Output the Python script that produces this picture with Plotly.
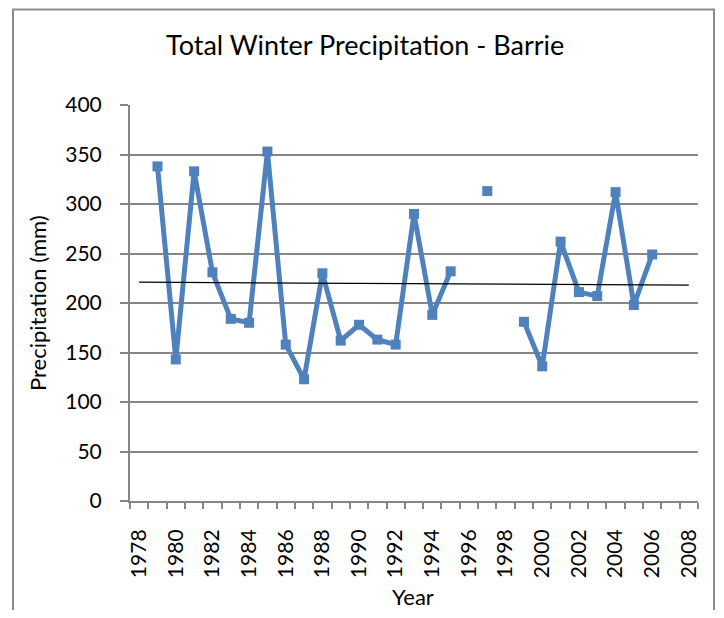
import plotly.graph_objects as go

years = list(range(1979, 2007))
precip = [338, 143, 333, 231, 184, 180, 353, 158, 123, 230, 162, 178, 163, 158,
          290, 188, 232, None, 313, None, 181, 136, 262, 211, 207, 312, 198, 249]
trend_years = [1978, 2008]
trend_values = [221, 218]
y_ticks = [0, 50, 100, 150, 200, 250, 300, 350, 400]
x_tick_years = list(range(1978, 2009, 2))

FONT = "Lato"
GRAY = "#868686"
OFF = 8  # page body margin offset
FW, FH = 724 - 2 * OFF, 618 - 2 * OFF

L, R, T, B = 130, 698, 105, 501
W, H = R - L, B - T

def px_x(p):
    return (p - L) / W

def px_y(p):
    return (B - p) / H

fig = go.Figure()
fig.add_trace(go.Scatter(
    x=years, y=precip, mode="lines+markers",
    line=dict(color="#4F81BD", width=5),
    marker=dict(symbol="square", size=10, color="#4F81BD"),
    connectgaps=False, showlegend=False,
))
fig.add_trace(go.Scatter(
    x=trend_years, y=trend_values, mode="lines",
    line=dict(color="black", width=1.3), showlegend=False,
))

fig.update_layout(
    width=FW, height=FH,
    margin=dict(l=L - OFF, r=FW - (R - OFF), t=T - OFF, b=FH - (B - OFF),
                autoexpand=False),
    paper_bgcolor="white", plot_bgcolor="white",
    font=dict(family=FONT, color="black", size=21),
    xaxis=dict(
        range=[1977.5, 2008.5], tickmode="array", tickvals=x_tick_years,
        ticktext=[str(y) for y in x_tick_years], tickangle=-90,
        ticks="", showgrid=False, showline=True, linecolor=GRAY, linewidth=2,
        zeroline=False, ticklabelstandoff=18,
        minor=dict(tickmode="linear", tick0=1977.5, dtick=1, ticks="outside",
                   ticklen=6, tickcolor=GRAY, tickwidth=1.5, showgrid=False),
        tickfont=dict(size=21),
    ),
    yaxis=dict(
        range=[0, 400], tickvals=y_ticks, showgrid=True, gridcolor=GRAY,
        gridwidth=1.5, showline=True, linecolor=GRAY, linewidth=2,
        ticks="outside", ticklen=8, tickcolor=GRAY, tickwidth=1.5,
        zeroline=False, ticklabelstandoff=14, tickfont=dict(size=21),
    ),
    shapes=[dict(type="rect", xref="paper", yref="paper",
                 x0=px_x(13), x1=px_x(714), y0=px_y(640), y1=px_y(9.5),
                 line=dict(color="#8c8c8c", width=2), layer="below")],
    annotations=[
        dict(text="Total Winter Precipitation - Barrie", xref="paper", yref="paper",
             x=px_x(365), y=px_y(44), showarrow=False, font=dict(size=27),
             xanchor="center", yanchor="middle"),
        dict(text="Precipitation (mm)", xref="paper", yref="paper",
             x=px_x(37), y=px_y(303), showarrow=False, textangle=-90,
             font=dict(size=22), xanchor="center", yanchor="middle"),
        dict(text="Year", xref="paper", yref="paper",
             x=px_x(413), y=px_y(596), showarrow=False,
             font=dict(size=22), xanchor="center", yanchor="middle"),
    ],
)

fig.write_html("out.html")
